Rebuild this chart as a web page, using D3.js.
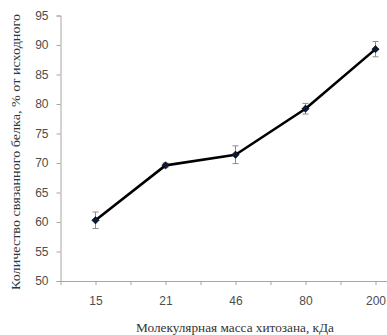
<!DOCTYPE html>
<html>
<head>
<meta charset="utf-8">
<script src="https://cdn.jsdelivr.net/npm/d3@7"></script>
<style>
  html, body { margin: 0; padding: 0; background: #fff; }
  svg { display: block; }
</style>
</head>
<body>
<svg id="chart" width="387" height="335"></svg>
<script>
// Molecular mass of chitosan (kDa) and bound protein, % of initial
const categories = ["15", "21", "46", "80", "200"];
const boundProtein = [60.3, 69.6, 71.4, 79.2, 89.3];
const errors = [1.4, 0.4, 1.5, 0.9, 1.3];
const yTicks = [50, 55, 60, 65, 70, 75, 80, 85, 90, 95];

const xTitle = "Молекулярная масса хитозана, кДа";
const yTitle = "Количество связанного белка, % от исходного";

const svg = d3.select("#chart");
const plot = { left: 60.5, top: 15.5, bottom: 281, bandWidth: 70 };

const y = d3.scaleLinear().domain([50, 95]).range([plot.bottom, plot.top]);
// category index space: band edges at k-0.5, centres at k
const x = d3.scaleLinear()
  .domain([-0.5, categories.length - 0.5])
  .range([plot.left, plot.left + plot.bandWidth * categories.length]);

const axisColor = "#a6a6a6";
const textColor = "#4d4d4d";
const tickFont = "'Liberation Sans', Arial, sans-serif";
const titleFont = "'Liberation Serif', 'Times New Roman', serif";

// Y axis
const gy = svg.append("g")
  .attr("transform", `translate(${plot.left},0)`)
  .call(d3.axisLeft(y).tickValues(yTicks).tickSize(4).tickPadding(8));
gy.select(".domain").attr("stroke", axisColor);
gy.selectAll(".tick line").attr("stroke", axisColor);
gy.selectAll(".tick text")
  .attr("fill", textColor)
  .style("font-family", tickFont)
  .style("font-size", "12px");

// X axis: ticks at band edges and category centres, labels at centres
const xTickVals = d3.range(-0.5, categories.length, 0.5);
const gx = svg.append("g")
  .attr("transform", `translate(0,${plot.bottom})`)
  .call(d3.axisBottom(x)
    .tickValues(xTickVals)
    .tickSize(4)
    .tickSizeOuter(0)
    .tickPadding(11)
    .tickFormat(d => Number.isInteger(d) ? categories[d] : ""));
gx.select(".domain").attr("stroke", axisColor);
gx.selectAll(".tick line").attr("stroke", axisColor);
gx.selectAll(".tick text")
  .attr("fill", textColor)
  .style("font-family", tickFont)
  .style("font-size", "12px");

// Error bars
const eb = svg.append("g").attr("stroke", "#8c8c8c").attr("stroke-width", 1);
boundProtein.forEach((v, i) => {
  const cx = x(i);
  const e = errors[i];
  eb.append("line").attr("x1", cx).attr("x2", cx).attr("y1", y(v + e)).attr("y2", y(v - e));
  eb.append("line").attr("x1", cx - 3).attr("x2", cx + 3).attr("y1", y(v + e)).attr("y2", y(v + e));
  eb.append("line").attr("x1", cx - 3).attr("x2", cx + 3).attr("y1", y(v - e)).attr("y2", y(v - e));
});

// Line
const line = d3.line().x((d, i) => x(i)).y(d => y(d));
svg.append("path")
  .datum(boundProtein)
  .attr("fill", "none")
  .attr("stroke", "#000")
  .attr("stroke-width", 2.6)
  .attr("stroke-linejoin", "round")
  .attr("d", line);

// Diamond markers
const diamond = d3.symbol().type(d3.symbolDiamond2).size(34);
svg.append("g").selectAll("path")
  .data(boundProtein)
  .join("path")
  .attr("transform", (d, i) => `translate(${x(i)},${y(d)})`)
  .attr("d", diamond)
  .attr("fill", "#0b1a3a")
  .attr("stroke", "#000")
  .attr("stroke-width", 0.6);

// Axis titles
svg.append("text")
  .attr("x", 235)
  .attr("y", 332)
  .attr("text-anchor", "middle")
  .attr("fill", "#333")
  .attr("textLength", 198)
  .attr("lengthAdjust", "spacingAndGlyphs")
  .style("font-family", titleFont)
  .style("font-size", "13px")
  .text(xTitle);

svg.append("text")
  .attr("transform", `translate(20,${152}) rotate(-90)`)
  .attr("text-anchor", "middle")
  .attr("fill", "#333")
  .attr("textLength", 276)
  .attr("lengthAdjust", "spacingAndGlyphs")
  .style("font-family", titleFont)
  .style("font-size", "12.5px")
  .text(yTitle);
</script>
</body>
</html>
